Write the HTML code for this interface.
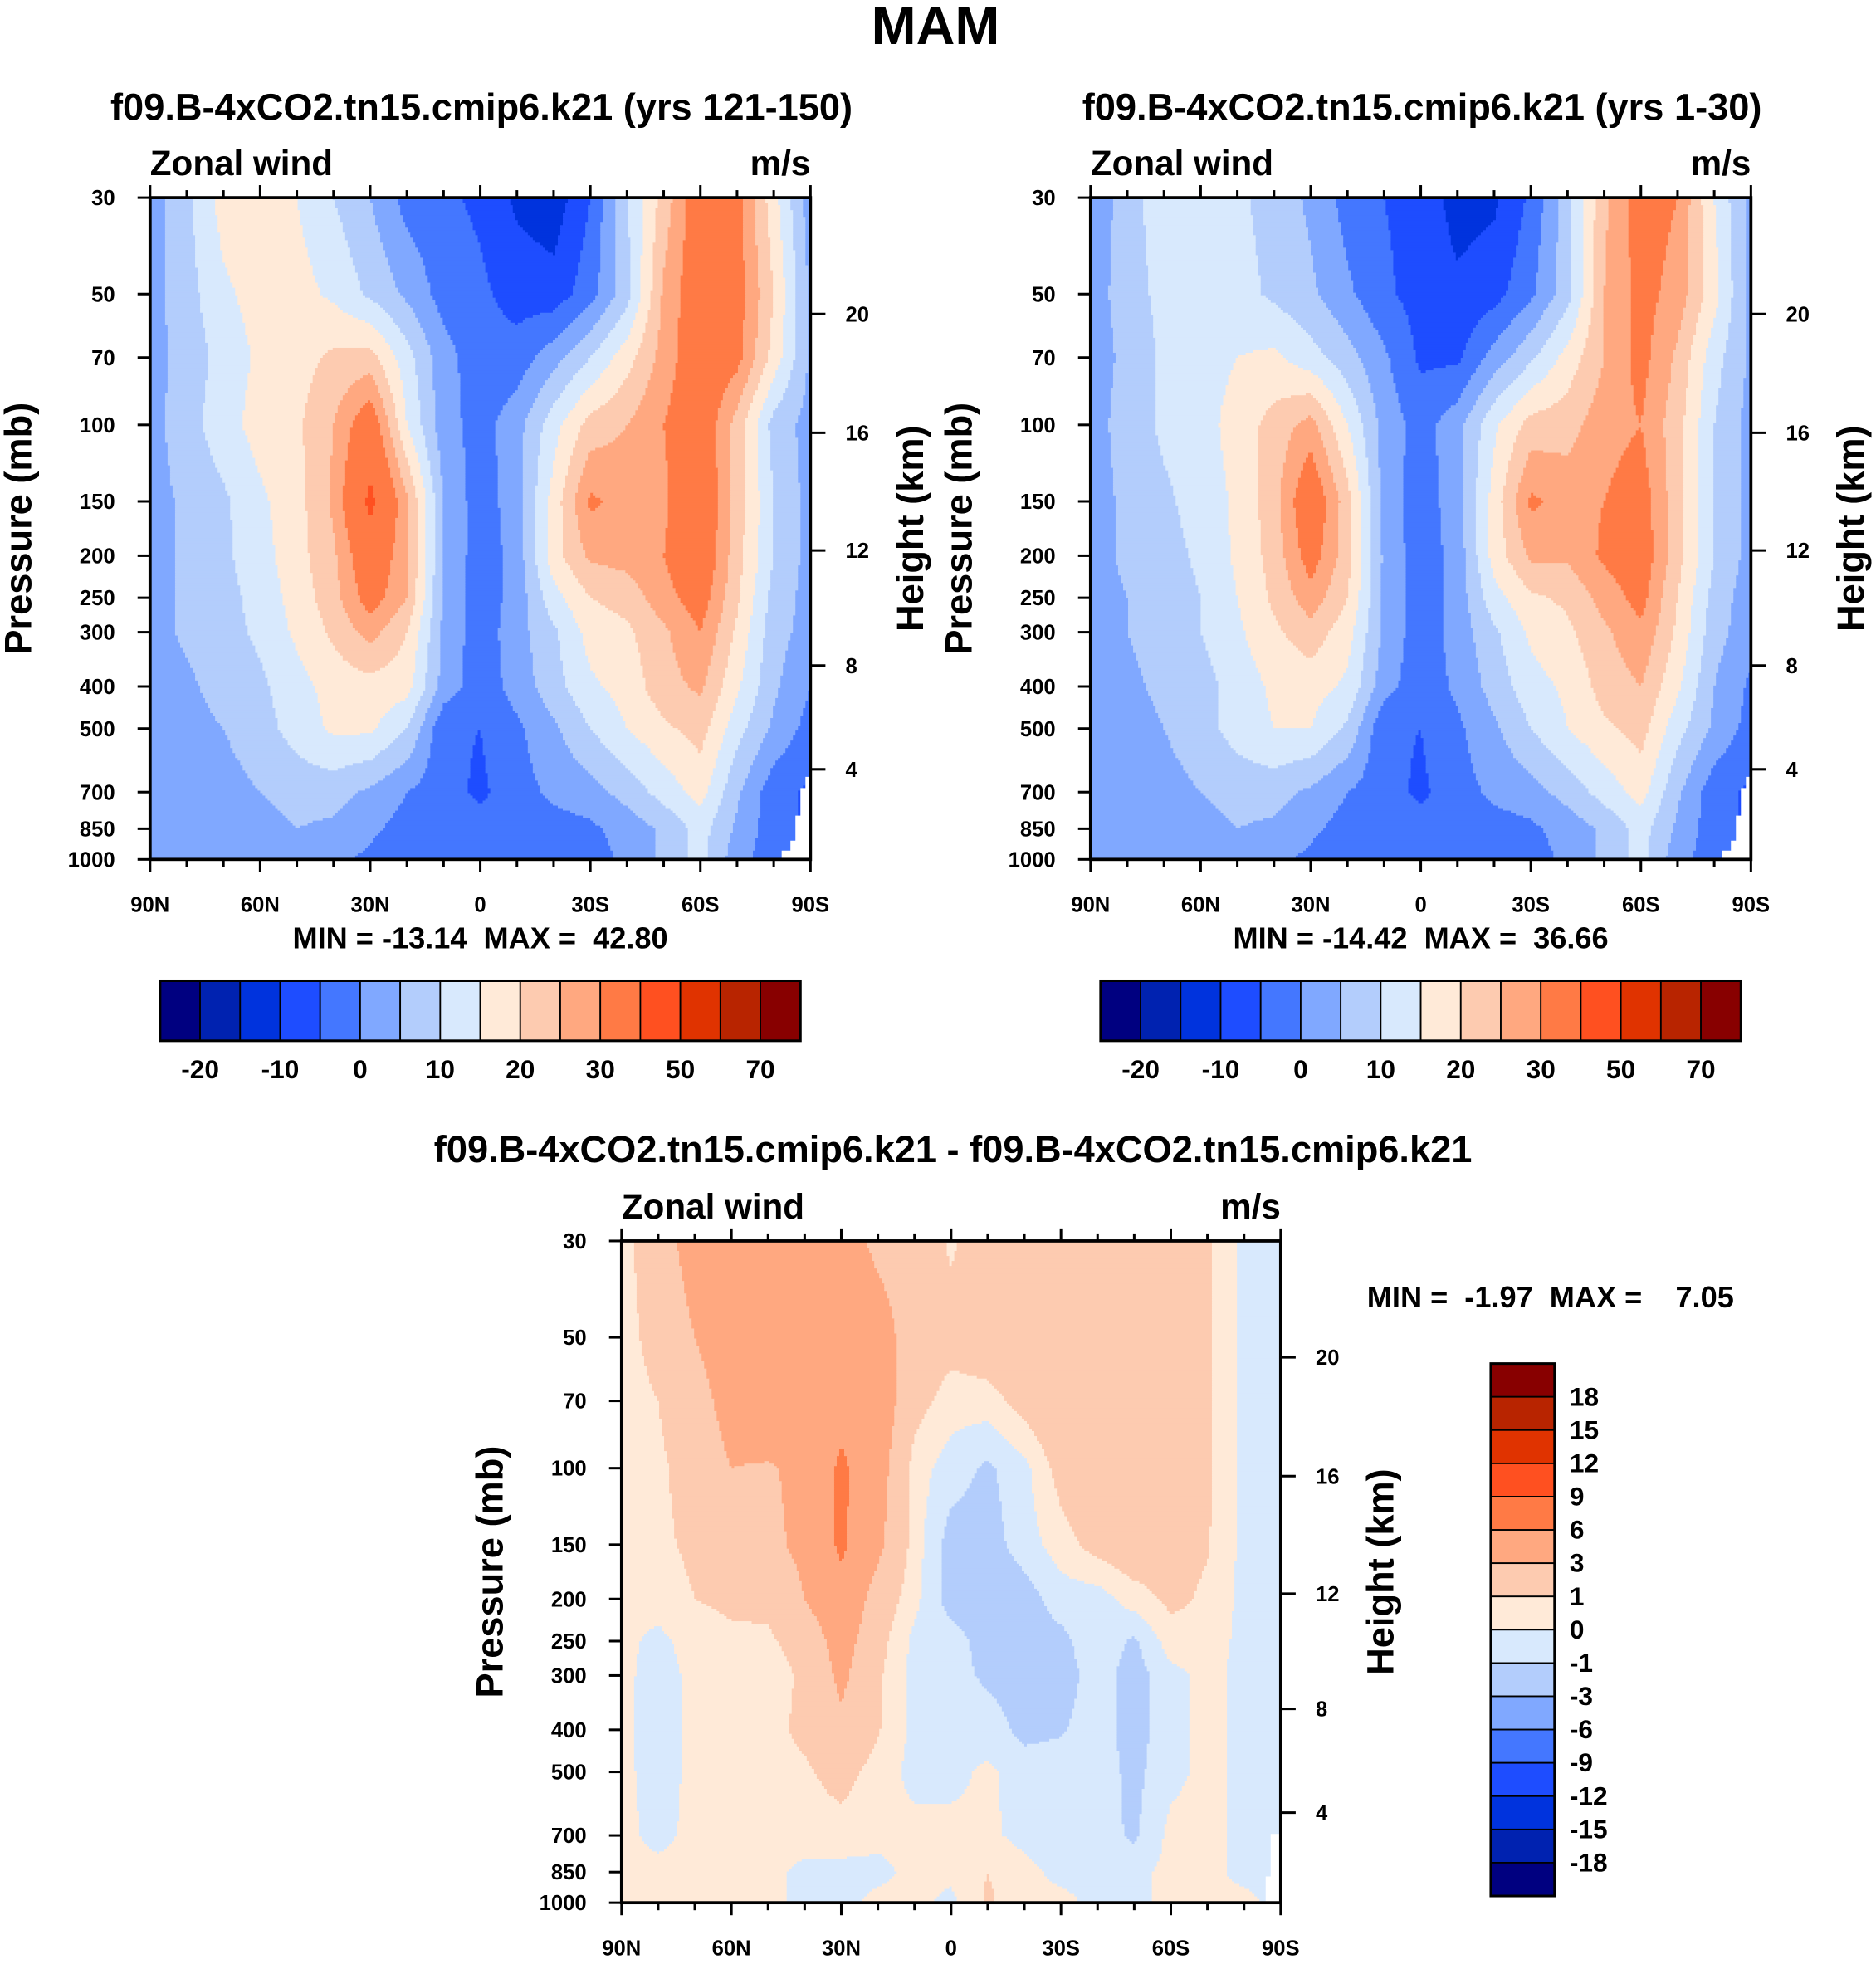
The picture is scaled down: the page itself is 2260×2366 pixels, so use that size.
<!DOCTYPE html>
<html><head><meta charset="utf-8">
<style>
html,body{margin:0;padding:0;background:#fff;}
svg{display:block;}
text{font-family:"Liberation Sans",Arial,sans-serif;font-weight:bold;fill:#000;}
</style></head>
<body>
<svg id="root" xmlns="http://www.w3.org/2000/svg" width="2260" height="2366" viewBox="0 0 1500 1570" preserveAspectRatio="none">
<rect x="0" y="0" width="1500" height="1570" fill="#fff"/>
<text x="748" y="35" font-size="43" text-anchor="middle">MAM</text>
<text x="385" y="96" font-size="30" text-anchor="middle">f09.B-4xCO2.tn15.cmip6.k21 (yrs 121-150)</text>
<text x="1137" y="96" font-size="30" text-anchor="middle">f09.B-4xCO2.tn15.cmip6.k21 (yrs 1-30)</text>
<text x="762" y="929" font-size="30" text-anchor="middle">f09.B-4xCO2.tn15.cmip6.k21 - f09.B-4xCO2.tn15.cmip6.k21</text>
<g id="g1"></g>
<g id="g2"></g>
<g id="g3"></g>
</svg>
<script>
const lats = [90,80,70,60,50,40,30,20,10,0,-10,-20,-30,-40,-50,-60,-70,-80,-90];
const levels = [30,50,70,100,150,200,250,300,400,500,700,850,1000];
const latTickLabels = ["90N","60N","30N","0","30S","60S","90S"];
const latTickValues = [90,60,30,0,-30,-60,-90];
const presTickValues = [30,50,70,100,150,200,250,300,400,500,700,850,1000];
const heightTickLabels = ["20","16","12","8","4"];
const u1 = [
[2,9,17,19,15,10,5,-2,-4,-6,-11,-13,-5,10,22,35,32,17,2],
[3,8,14,17,17,14,9,4,-2,-4,-7,-8,-2,8,26,35,33,20,4],
[3,7,12,16,18,21,22,12,2,-3,-3,3,10,18,27,35,32,18,4],
[3,8,13,17,19,25,35,15,2,-2,3,13,22,25,30,35,23,8,3],
[3,6,9,14,18,26,42,26,5,-3,3,17,31,28,29,36,23,10,3],
[3,6,9,13,18,24,36,26,5,-3,2,18,26,27,30,36,22,10,3],
[3,6,8,12,17,23,33,25,4,-3,2,13,20,22,28,33,21,8,3],
[3,6,8,11,16,21,27,20,4,-3,3,9,17,19,24,30,19,7,3],
[1,4,7,9,13,17,18,17,3,-3,2,8,14,17,23,26,16,6,0],
[1,3,5,8,12,16,16,10,-4,-5,-1,4,10,15,19,22,12,4,-2],
[1,2,3,5,7,7,4,0,-3,-6,-2,1,3,7,12,17,6,-3,-6],
[1,2,2,3,5,4,1,-2,-3,-3,-3,-2,-1,2,6,12,4,-3,-6],
[1,1,1,2,1,1,-1,-4,-5,-3,-4,-3,-2,1,6,12,2,-3,-4]];
const u2 = [
[2,7,14,13,11,8,4,-2,-5,-7,-12,-11,-4,8,24,33,30,15,3],
[3,7,12,13,12,9,6,1,-4,-7,-9,-7,-1,8,25,32,28,17,3],
[3,6,11,13,15,16,12,7,1,-6,-6,2,9,17,25,32,24,12,4],
[3,7,11,13,17,22,27,15,3,-2,3,14,22,23,28,30,22,10,3],
[3,6,9,12,16,23,36,22,3,-3,3,17,31,28,30,33,22,10,3],
[3,6,8,11,16,22,33,22,4,-3,2,17,26,26,31,34,22,10,3],
[3,5,7,10,15,21,28,20,4,-3,2,13,19,21,27,32,20,8,2],
[3,5,7,10,14,19,23,17,4,-3,2,9,16,19,24,29,19,7,2],
[1,4,6,8,12,16,17,14,2,-3,1,7,13,16,22,25,16,5,-1],
[1,3,5,8,12,15,15,9,-4,-5,-1,4,10,15,19,22,12,4,-2],
[1,2,3,5,7,7,4,0,-3,-6,-2,1,3,7,12,17,6,-3,-6],
[1,2,2,3,5,4,1,-2,-3,-3,-3,-2,-1,2,6,12,4,-3,-6],
[1,1,1,2,1,1,-1,-4,-5,-3,-4,-3,-2,1,6,12,2,-3,-4]];
const ud = [
[0.5,2,4,4.5,4.5,4.5,4,2.5,2,0.8,2,2.5,2.5,2.5,2.5,2.5,1.2,-0.3,-0.5],
[0.5,1.5,3,4.5,5,5,5,4,2,1.5,2,2.5,2.5,2.5,2.5,2.5,1.2,-0.3,-0.5],
[0.5,1,2,4,5,5,5,4.5,1.5,0.5,0.5,1.5,2.5,2.5,2.5,2.5,1.2,-0.3,-0.5],
[0.5,0.8,1.5,3,2.8,3.5,6.5,4,0.5,-0.5,-1.2,-0.3,1.5,2.5,2.5,2,1.2,-0.3,-0.5],
[0.3,0.8,1.2,2,2.5,3.5,6.5,3.5,0.5,-1.5,-1.5,-0.5,0.5,1.5,2,1.5,1.1,-0.3,-0.5],
[0.3,0.5,1,1.2,1.3,3,5,2,0.3,-1.5,-2,-1.5,-0.5,-0.5,0.5,1.3,0.8,-0.3,-0.5],
[0.3,-0.3,0.5,0.8,0.8,1.5,4,1.5,-0.3,-0.5,-1.5,-1.5,-1.3,-0.3,-1.2,0.5,0.5,-0.3,-0.5],
[0.3,-0.5,0.3,0.5,0.5,1.2,3.5,1.2,-0.3,-0.6,-1.2,-1.5,-1.5,-0.5,-1.5,-0.3,0.3,-0.3,-0.5],
[0.3,-0.5,0.3,0.5,0.6,1.3,2.5,1.1,-0.3,-0.5,-0.5,-1.3,-1.1,-0.5,-1.5,-0.3,0.3,-0.3,-0.5],
[0.3,-0.5,0.3,0.5,0.5,0.8,1.5,0.5,-0.3,-0.3,0.2,-0.5,-0.5,-0.5,-1.3,-0.3,0.3,-0.3,-0.5],
[0.3,-0.3,0.3,0.5,0.5,0.5,0.5,0.3,0.3,0.3,0.2,-0.3,-0.5,-0.5,-1.2,0.3,0.3,-0.3,-0.5],
[0.3,0.3,0.3,0.3,0.3,-0.3,-0.3,-0.3,0.3,0.3,1,0.3,-0.3,-0.3,-0.3,0.3,0.3,-0.3,-0.5],
[0.3,0.3,0.3,0.3,0.3,-0.3,-0.3,0.3,0.3,-0.3,1.2,0.3,0.3,-0.3,-0.3,0.3,0.3,0.3,-0.3]];
const bounds1 = [-20,-15,-10,-5,0,5,10,15,20,25,30,40,50,60,70];
const boundsD = [-18,-15,-12,-9,-6,-3,-1,0,1,3,6,9,12,15,18];
const cbLabels1 = ["-20","-10","0","10","20","30","50","70"];
const cbLabelsD = ["18","15","12","9","6","3","1","0","-1","-3","-6","-9","-12","-15","-18"];
const colors = ["#000080","#0022b0","#0033dd","#1e4dff","#4477ff","#80a8ff","#b3cdfc","#d8e9fd","#ffead8","#fdcbb0","#ffa880","#ff7a45","#ff5020","#e03300","#b82400","#880000"];

const NS="http://www.w3.org/2000/svg";
function el(tag, attrs, parent){const e=document.createElementNS(NS,tag);for(const k in attrs)e.setAttribute(k,attrs[k]);parent.appendChild(e);return e;}

function interp(data, lat, p){
  const lp=Math.log(p);
  let i=0; while(i<levels.length-2 && Math.log(levels[i+1])<lp) i++;
  const t=(lp-Math.log(levels[i]))/(Math.log(levels[i+1])-Math.log(levels[i]));
  let j=Math.floor((90-lat)/10); if(j>17)j=17; if(j<0)j=0;
  const s=((90-lat)-j*10)/10;
  const a=data[i][j]*(1-s)+data[i][j+1]*s;
  const b=data[i+1][j]*(1-s)+data[i+1][j+1]*s;
  return a*(1-t)+b*t;
}
function colorIdx(v,bounds){let k=0;while(k<bounds.length&&v>=bounds[k])k++;return k;}

function drawPanel(g, data, bounds, x0, y0, w, h, opt){
  const L=Math.log(1000/30);
  const yOf=p=>y0+h*Math.log(p/30)/L;
  const xOf=lat=>x0+w*(90-lat)/180;
  const fill=el('g',{},g);
  
  
  const step=2;
  const ncol=Math.ceil(w/step);
  for(let y=y0;y<y0+h;y+=step){
    const yc=Math.min(y+step/2,y0+h);
    const p=30*Math.exp((yc-y0)/h*L);
    let runStart=x0, runC=-1;
    for(let k=0;k<=ncol;k++){
      const x=Math.min(x0+k*step,x0+w);
      let c=-2;
      if(k<ncol){const lat=90-(Math.min(x+step/2,x0+w)-x0)/w*180;c=colorIdx(interp(data,lat,p),bounds);}
      if(c!==runC){
        if(runC>=0){
          const r=el('rect',{x:runStart.toFixed(1),y:y.toFixed(1),width:(x-runStart+0.4).toFixed(1),height:(Math.min(step,y0+h-y)+0.4).toFixed(1),fill:colors[runC]},fill);
          
          
        }
        runStart=x; runC=c;
      }
    }
  }
  const m=el('polygon',{points:opt.mask,fill:'#fff'},g);
  
  
  const fr=el('rect',{x:x0,y:y0,width:w,height:h,fill:'none',stroke:'#000','stroke-width':2.5},g);
  
  
  for(let lat=90;lat>=-90;lat-=10){
    const x=xOf(lat), major=(lat%30===0), len=major?10:6;
    el('line',{x1:x,x2:x,y1:y0,y2:y0-len,stroke:'#000','stroke-width':2},g);
    el('line',{x1:x,x2:x,y1:y0+h,y2:y0+h+len,stroke:'#000','stroke-width':2},g);
  }
  latTickValues.forEach((lat,i)=>{
    const t=el('text',{x:xOf(lat),y:y0+h+42,'font-size':17,'text-anchor':'middle'},g);
    t.textContent=latTickLabels[i];
    
    
  });
  presTickValues.forEach(p=>{
    const y=yOf(p);
    el('line',{x1:x0,x2:x0-10,y1:y,y2:y,stroke:'#000','stroke-width':2},g);
    const t=el('text',{x:x0-28,y:y+6,'font-size':17,'text-anchor':'end'},g);
    t.textContent=String(p);
    
    
  });
  const hOff=[93,188,282,374,457];
  heightTickLabels.forEach((lab,i)=>{
    const y=y0+hOff[i];
    el('line',{x1:x0+w,x2:x0+w+12,y1:y,y2:y,stroke:'#000','stroke-width':2},g);
    const t=el('text',{x:x0+w+28,y:y+6,'font-size':17,'text-anchor':'start'},g);
    t.textContent=lab;
    
    
  });
  const zw=el('text',{x:x0,y:y0-18,'font-size':28},g); zw.textContent='Zonal wind';
  
  
  const ms=el('text',{x:x0+w,y:y0-18,'font-size':28,'text-anchor':'end'},g); ms.textContent='m/s';
  
  
  const cy=y0+h/2;
  const yl=el('text',{x:x0-95,y:cy,'font-size':30,'text-anchor':'middle',transform:`rotate(-90 ${x0-95} ${cy})`},g);
  yl.textContent='Pressure (mb)';
  
  
  const hx=x0+w+90;
  const hl=el('text',{x:hx,y:cy,'font-size':30,'text-anchor':'middle',transform:`rotate(-90 ${hx} ${cy})`},g);
  hl.textContent='Height (km)';
  
  
}

function hColorbar(g,x0,y0){
  const bw=32;
  colors.forEach((c,i)=>{
    const r=el('rect',{x:x0+i*bw,y:y0,width:bw,height:48,fill:c,stroke:'#000','stroke-width':1.2},g);
    
    
  });
  el('rect',{x:x0,y:y0,width:bw*16,height:48,fill:'none',stroke:'#000','stroke-width':2},g);
  cbLabels1.forEach((lab,i)=>{
    const t=el('text',{x:x0+bw*(1+2*i),y:y0+78,'font-size':21,'text-anchor':'middle'},g);
    t.textContent=lab;
    
    
  });
}

const g1=document.getElementById('g1'),g2=document.getElementById('g2'),g3=document.getElementById('g3');
const mask1=(dx)=>[[648,621],[644,621],[644,630],[640,630],[640,652],[636,652],[636,672],[632,672],[632,680],[625,680],[625,687],[648,687]].map(p=>(p[0]+dx)+','+p[1]).join(' ');
drawPanel(g1,u1,bounds1,120,158,528,529,{mask:mask1(0)});
drawPanel(g2,u2,bounds1,872,158,528,529,{mask:mask1(752)});
drawPanel(g3,ud,boundsD,497,992,527,529,{mask:'1024,1466 1016,1466 1016,1500 1012,1500 1012,1521 1024,1521'});

const mm1=el('text',{x:384,y:758,'font-size':24,'text-anchor':'middle'},g1); mm1.textContent='MIN = -13.14  MAX =  42.80';


const mm2=el('text',{x:1136,y:758,'font-size':24,'text-anchor':'middle'},g2); mm2.textContent='MIN = -14.42  MAX =  36.66';


const mm3=el('text',{x:1093,y:1045,'font-size':24},g3); mm3.textContent='MIN =  -1.97  MAX =    7.05';


mm3.setAttribute('style','white-space:pre');
mm1.setAttribute('style','white-space:pre');
mm2.setAttribute('style','white-space:pre');

hColorbar(g1,128,784);
hColorbar(g2,880,784);
(function(){
  const x0=1192,y0=1090,bh=26.6;
  for(let i=0;i<16;i++){
    const r=el('rect',{x:x0,y:y0+i*bh,width:51,height:bh,fill:colors[15-i],stroke:'#000','stroke-width':1.2},g3);
    
    
  }
  el('rect',{x:x0,y:y0,width:51,height:bh*16,fill:'none',stroke:'#000','stroke-width':2},g3);
  cbLabelsD.forEach((lab,i)=>{
    const t=el('text',{x:x0+63,y:y0+bh*(i+1)+7,'font-size':21},g3);
    t.textContent=lab;
    
    
  });
})();
</script>
</body></html>
